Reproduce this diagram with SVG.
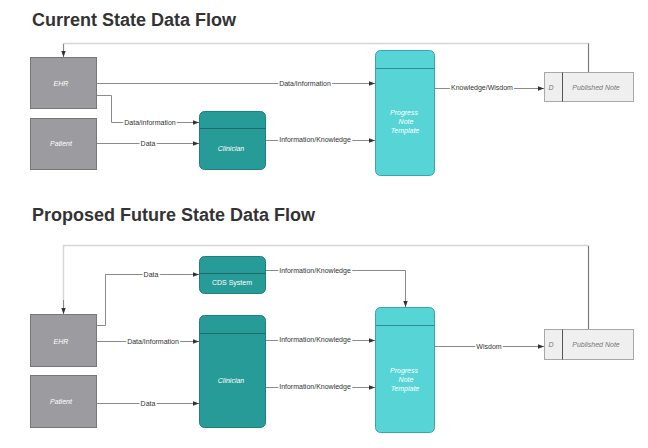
<svg xmlns="http://www.w3.org/2000/svg" width="648" height="448" viewBox="0 0 648 448">
<style>
.title{font-family:"Liberation Sans",Arial,sans-serif;font-weight:bold;font-size:18px;fill:#333}
.ent{fill:#9c9ca0;stroke:#77777a;stroke-width:1}
.proc{fill:#279b97;stroke:#1f7f7c;stroke-width:1}
.tmpl{fill:#57d4d6;stroke:#3aa5a8;stroke-width:1}
.store{fill:#efefef;stroke:#a8a8a8;stroke-width:1}
.hdr{stroke:#1e6b69;stroke-width:1}
.hdr2{stroke:#2d8f91;stroke-width:1}
.nt{font-family:"Liberation Sans",Arial,sans-serif;font-size:7px;fill:#fff;text-anchor:middle;font-style:italic}
.nd{font-family:"Liberation Sans",Arial,sans-serif;font-size:7px;fill:#777;text-anchor:middle;font-style:italic}
.ln{fill:none;stroke:#8a8a8a;stroke-width:1}
.fb{fill:none;stroke:#d6d6d6;stroke-width:1.5}
.lb{font-family:"Liberation Sans",Arial,sans-serif;font-size:7px;fill:#333;text-anchor:middle;paint-order:stroke;stroke:#fff;stroke-width:3px}
</style>
<defs>
<marker id="ah" viewBox="0 0 6 6" refX="6" refY="3" markerWidth="6" markerHeight="6" markerUnits="userSpaceOnUse" orient="auto">
<path d="M0,0.8 L6,3 L0,5.2 Z" fill="#333"/>
</marker>
</defs>

<text class="title" x="32" y="26">Current State Data Flow</text>
<text class="title" x="32" y="221">Proposed Future State Data Flow</text>

<g id="connectors">
<!-- current -->
<path class="fb" d="M588.5,72 V43.5 H63.5 V56"/>
<path d="M588.5,72 V43.5" stroke="#777" stroke-width="1" fill="none"/>
<path class="ln" d="M63.5,44 V57" marker-end="url(#ah)" stroke="#d6d6d6"/>
<path class="ln" d="M97,83.5 H375" marker-end="url(#ah)"/>
<text class="lb" x="305" y="85.5">Data/Information</text>
<path class="ln" d="M97,95.5 H111.5 V122.5 H199" marker-end="url(#ah)"/>
<text class="lb" x="150" y="124.5">Data/information</text>
<path class="ln" d="M97,143.5 H199" marker-end="url(#ah)"/>
<text class="lb" x="148" y="145.5">Data</text>
<path class="ln" d="M265,140.5 H375" marker-end="url(#ah)"/>
<text class="lb" x="315" y="142">Information/Knowledge</text>
<path class="ln" d="M434,88.5 H544" marker-end="url(#ah)"/>
<text class="lb" x="482" y="90">Knowledge/Wisdom</text>

<!-- proposed -->
<path class="fb" d="M588.5,329 V245.5 H63.5 V313"/>
<path d="M588.5,329 V246" stroke="#777" stroke-width="1" fill="none"/>
<path class="ln" d="M63.5,300 V314" marker-end="url(#ah)" stroke="#d6d6d6"/>
<path class="ln" d="M97,325.5 H105.5 V274.5 H199" marker-end="url(#ah)"/>
<text class="lb" x="151" y="276.5">Data</text>
<path class="ln" d="M97,341.5 H199" marker-end="url(#ah)"/>
<text class="lb" x="153" y="343.5">Data/Information</text>
<path class="ln" d="M97,403.5 H199" marker-end="url(#ah)"/>
<text class="lb" x="148" y="405.5">Data</text>
<path class="ln" d="M265,270.5 H405.5 V307" marker-end="url(#ah)"/>
<text class="lb" x="315" y="272.5">Information/Knowledge</text>
<path class="ln" d="M265,340.5 H375" marker-end="url(#ah)"/>
<text class="lb" x="315" y="342">Information/Knowledge</text>
<path class="ln" d="M265,387.5 H375" marker-end="url(#ah)"/>
<text class="lb" x="315" y="389">Information/Knowledge</text>
<path class="ln" d="M434,346.5 H544" marker-end="url(#ah)"/>
<text class="lb" x="489" y="348.5">Wisdom</text>
</g>

<!-- current nodes -->
<g id="ehr1">
<rect class="ent" x="30.5" y="57.5" width="66" height="51"/>
<text class="nt" x="61" y="86">EHR</text>
</g>
<g id="patient1">
<rect class="ent" x="30.5" y="118.5" width="66" height="51"/>
<text class="nt" x="61" y="146">Patient</text>
</g>
<g id="clinician1">
<rect class="proc" x="199.5" y="111.5" width="66" height="58" rx="5"/>
<line class="hdr" x1="199.5" y1="128.5" x2="265.5" y2="128.5"/>
<text class="nt" x="231" y="151">Clinician</text>
</g>
<g id="progress1">
<rect class="tmpl" x="375.5" y="50.5" width="59" height="125" rx="5"/>
<line class="hdr2" x1="375.5" y1="68.5" x2="434.5" y2="68.5"/>
<text class="nt" x="404" y="115">Progress</text>
<text class="nt" x="406" y="124">Note</text>
<text class="nt" x="405" y="133">Template</text>
</g>
<g id="published1">
<rect class="store" x="544.5" y="72.5" width="89" height="29"/>
<line x1="562.5" y1="72.5" x2="562.5" y2="101.5" stroke="#555" stroke-width="1"/>
<text class="nd" x="551" y="89.5">D</text>
<text class="nd" x="596" y="89.5">Published Note</text>
</g>

<!-- proposed nodes -->
<g id="ehr2">
<rect class="ent" x="30.5" y="314.5" width="66" height="52"/>
<text class="nt" x="61" y="343.5">EHR</text>
</g>
<g id="patient2">
<rect class="ent" x="30.5" y="375.5" width="66" height="52"/>
<text class="nt" x="61" y="403.5">Patient</text>
</g>
<g id="cds">
<rect class="proc" x="199.5" y="256.5" width="66" height="37" rx="5"/>
<line class="hdr" x1="199.5" y1="273.5" x2="265.5" y2="273.5"/>
<text class="nt" x="232" y="284.5" font-style="normal" style="font-style:normal">CDS System</text>
</g>
<g id="clinician2">
<rect class="proc" x="199.5" y="315.5" width="66" height="112" rx="5"/>
<line class="hdr" x1="199.5" y1="333.5" x2="265.5" y2="333.5"/>
<text class="nt" x="231" y="382.5">Clinician</text>
</g>
<g id="progress2">
<rect class="tmpl" x="375.5" y="307.5" width="59" height="125" rx="5"/>
<line class="hdr2" x1="375.5" y1="325.5" x2="434.5" y2="325.5"/>
<text class="nt" x="404" y="372.5">Progress</text>
<text class="nt" x="406" y="381.5">Note</text>
<text class="nt" x="405" y="390.5">Template</text>
</g>
<g id="published2">
<rect class="store" x="544.5" y="329.5" width="89" height="30"/>
<line x1="562.5" y1="329.5" x2="562.5" y2="359.5" stroke="#555" stroke-width="1"/>
<text class="nd" x="551" y="346.5">D</text>
<text class="nd" x="596" y="346.5">Published Note</text>
</g>
</svg>
